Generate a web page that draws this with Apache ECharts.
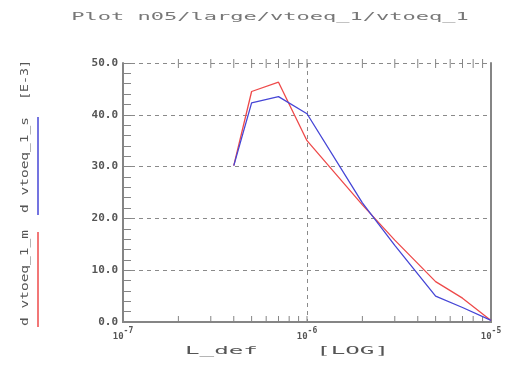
<!DOCTYPE html>
<html>
<head>
<meta charset="utf-8">
<script src="https://cdn.jsdelivr.net/npm/echarts@6/dist/echarts.min.js"></script>
<style>
html,body{margin:0;padding:0;background:#fff;}
#chart{width:506px;height:365px;}
</style>
</head>
<body>
<div id="chart"></div>
<script>
// ---- data ----
var titleText = 'Plot n05/large/vtoeq_1/vtoeq_1';
var xName = 'L_def    [LOG]';
var seriesNames = ['d vtoeq_1_m', 'd vtoeq_1_s'];
var unitText = '[E-3]';
var Lvalues = [4e-7, 5e-7, 7e-7, 1e-6, 2e-6, 3e-6, 5e-6, 7e-6, 1e-5];
var vtoeqM = [30.2, 44.5, 46.3, 35.0, 22.6, 15.8, 7.8, 4.6, 0.3];   // red
var vtoeqS = [30.2, 42.3, 43.5, 40.2, 23.0, 14.8, 5.0, 2.8, 0.3];   // blue
var yTicks = [0, 10, 20, 30, 40, 50];
var xDecades = [1e-7, 1e-6, 1e-5];
var minorMultipliers = [2, 3, 4, 5, 6, 7, 8, 9];

function pairs(xs, ys) { return xs.map(function (x, i) { return [x, ys[i]]; }); }
// log-axis tick values: 2..9 within each decade, plus inner decades
var xTickValues = [];
for (var i = 0; i < xDecades.length - 1; i++) {
  if (i > 0) xTickValues.push(xDecades[i]);
  minorMultipliers.forEach(function (m) { xTickValues.push(m * xDecades[i]); });
}

var axisGrey = '#858585';
var mono = 'DejaVu Sans Mono';
var yMin = yTicks[0], yMax = yTicks[yTicks.length - 1];

var chart = echarts.init(document.getElementById('chart'), null, {renderer: 'canvas'});
chart.setOption({
  animation: false,
  backgroundColor: '#ffffff',
  grid: {left: 123, right: 15, top: 63, bottom: 43},
  xAxis: [
    {
      type: 'log', logBase: 10, min: xDecades[0], max: xDecades[xDecades.length - 1], position: 'bottom',
      axisLine: {show: true, lineStyle: {color: axisGrey, width: 2}},
      axisTick: {show: false},
      minorTick: {show: false},
      splitLine: {show: true, lineStyle: {color: '#8a8a8a', type: [4, 4], width: 1}},
      axisLabel: {
        margin: 5,
        formatter: function (v) {
          var e = Math.round(Math.log10(v));
          return '{b|10}{s|' + e + '}';
        },
        rich: {
          b: {fontFamily: mono, fontSize: 9, fontWeight: 'bold', color: '#555', verticalAlign: 'bottom'},
          s: {fontFamily: mono, fontSize: 8, fontWeight: 'bold', color: '#555', verticalAlign: 'bottom', padding: [0, 0, 6, 0]}
        }
      }
    },
    {
      type: 'value', min: 0, max: 1, position: 'top',
      axisLine: {show: true, lineStyle: {color: axisGrey, width: 2}},
      axisTick: {show: false}, axisLabel: {show: false}, splitLine: {show: false}
    }
  ],
  yAxis: [
    {
      type: 'value', min: yMin, max: yMax, interval: 10, position: 'left',
      axisLine: {show: true, lineStyle: {color: axisGrey, width: 2}},
      axisTick: {show: true, inside: true, length: 8, lineStyle: {color: axisGrey}},
      minorTick: {show: true, splitNumber: 5, length: 8, lineStyle: {color: axisGrey}},
      splitLine: {show: true, lineStyle: {color: '#8a8a8a', type: [4, 4], width: 1}},
      axisLabel: {
        margin: 5, fontFamily: mono, fontSize: 11, fontWeight: 'bold', color: '#555',
        formatter: function (v) { return v.toFixed(1); }
      }
    },
    {
      type: 'value', min: yMin, max: yMax, position: 'right',
      axisLine: {show: true, lineStyle: {color: axisGrey, width: 2}},
      axisTick: {show: false}, axisLabel: {show: false}, splitLine: {show: false}
    }
  ],
  series: [
    {
      // log-axis minor ticks on bottom and top edges
      type: 'custom', xAxisIndex: 0, yAxisIndex: 0, clip: false, silent: true,
      data: xTickValues.map(function (v) { return [v]; }),
      renderItem: function (params, api) {
        var x = api.value(0);
        var pb = api.coord([x, yMin]);
        var pt = api.coord([x, yMax]);
        var st = {stroke: axisGrey, lineWidth: 1};
        return {
          type: 'group',
          children: [
            {type: 'line', shape: {x1: pb[0], y1: pb[1], x2: pb[0], y2: pb[1] - 6}, style: st},
            {type: 'line', shape: {x1: pt[0], y1: pt[1] - 4, x2: pt[0], y2: pt[1] + 5}, style: st}
          ]
        };
      }
    },
    {
      name: seriesNames[0], type: 'line', xAxisIndex: 0, yAxisIndex: 0,
      data: pairs(Lvalues, vtoeqM), symbol: 'none',
      lineStyle: {color: '#ee4a4a', width: 1.3}
    },
    {
      name: seriesNames[1], type: 'line', xAxisIndex: 0, yAxisIndex: 0,
      data: pairs(Lvalues, vtoeqS), symbol: 'none',
      lineStyle: {color: '#4646d6', width: 1.3}
    }
  ],
  graphic: [
    {type: 'text', x: 270, y: 17, scaleX: 2.2,
      style: {text: titleText, font: '10px "DejaVu Sans Mono"', fill: '#777',
        textAlign: 'center', textVerticalAlign: 'middle', align: 'center', verticalAlign: 'middle'}},
    {type: 'text', x: 287, y: 351, scaleX: 2.2,
      style: {text: xName, font: '11px "DejaVu Sans Mono"', fill: '#555',
        textAlign: 'center', textVerticalAlign: 'middle', align: 'center', verticalAlign: 'middle'}},
    {type: 'text', x: 25, y: 278, rotation: Math.PI / 2, scaleX: 1.32,
      style: {text: seriesNames[0], font: '11px "DejaVu Sans Mono"', fill: '#555',
        textAlign: 'center', textVerticalAlign: 'middle', align: 'center', verticalAlign: 'middle'}},
    {type: 'text', x: 25, y: 165, rotation: Math.PI / 2, scaleX: 1.32,
      style: {text: seriesNames[1], font: '11px "DejaVu Sans Mono"', fill: '#555',
        textAlign: 'center', textVerticalAlign: 'middle', align: 'center', verticalAlign: 'middle'}},
    {type: 'text', x: 25, y: 80, rotation: Math.PI / 2, scaleX: 1.2,
      style: {text: unitText, font: '11px "DejaVu Sans Mono"', fill: '#555',
        textAlign: 'center', textVerticalAlign: 'middle', align: 'center', verticalAlign: 'middle'}},
    {type: 'line', shape: {x1: 38, y1: 232, x2: 38, y2: 327},
      style: {stroke: '#ee4a4a', lineWidth: 1.5}},
    {type: 'line', shape: {x1: 38, y1: 117, x2: 38, y2: 215},
      style: {stroke: '#4646d6', lineWidth: 1.5}}
  ]
});
</script>
</body>
</html>
